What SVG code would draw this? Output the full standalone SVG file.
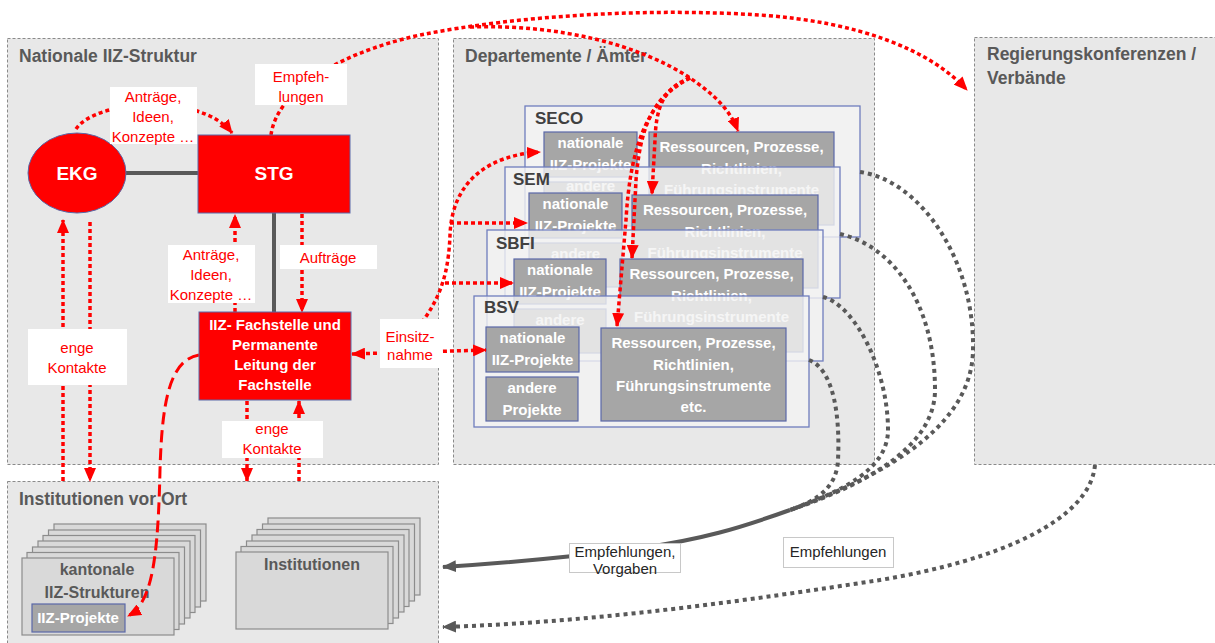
<svg xmlns="http://www.w3.org/2000/svg" width="1215" height="643" viewBox="0 0 1215 643">
<defs>
<style>
.panel{fill:#e8e8e8;stroke:#8a8a8a;stroke-width:1;stroke-dasharray:3 2}
.ptitle{font-family:"Liberation Sans",Arial,sans-serif;font-weight:bold;font-size:17.5px;fill:#595959}
.dept{fill:#f2f2f2;stroke:#6f7dbd;stroke-width:1.3}
.deptT{fill:#f2f2f2;fill-opacity:0.8;stroke:#6f7dbd;stroke-width:1.3}
.inner{fill:#a6a6a6;stroke:#5a68a8;stroke-width:1.2}
.wt{font-family:"Liberation Sans",Arial,sans-serif;font-weight:bold;font-size:15px;fill:#ffffff;text-anchor:middle}
.dtitle{font-family:"Liberation Sans",Arial,sans-serif;font-weight:bold;font-size:17px;fill:#404040}
.lbl{fill:#ffffff}
.blbl{fill:#ffffff;stroke:#c8c8c8;stroke-width:1}
.rt{font-family:"Liberation Sans",Arial,sans-serif;font-size:15px;fill:#ff0000;text-anchor:middle}
.bt{font-family:"Liberation Sans",Arial,sans-serif;font-size:15px;fill:#262626;text-anchor:middle}
.rdot{fill:none;stroke:#ff0000;stroke-width:3.5;stroke-dasharray:4 3}
.rdash{fill:none;stroke:#ff0000;stroke-width:3;stroke-dasharray:12 6}
.gdot{fill:none;stroke:#595959;stroke-width:4;stroke-dasharray:4 4}
.gsol{fill:none;stroke:#595959;stroke-width:4}
.gline{stroke:#595959;stroke-width:4}
.card{fill:#d9d9d9;stroke:#8c8c8c;stroke-width:1.2}
.ct{font-family:"Liberation Sans",Arial,sans-serif;font-weight:bold;font-size:16px;fill:#595959;text-anchor:middle}
.redbox{fill:#ff0000;stroke:#5a68a8;stroke-width:1}
.bigw{font-family:"Liberation Sans",Arial,sans-serif;font-weight:bold;font-size:19px;fill:#ffffff;text-anchor:middle}
</style>
<marker id="ar" markerUnits="userSpaceOnUse" markerWidth="14" markerHeight="12" viewBox="0 0 14 12" refX="13" refY="6" orient="auto-start-reverse">
<path d="M0,0 L14,6 L0,12 z" fill="#ff0000"/>
</marker>
<marker id="ag" markerUnits="userSpaceOnUse" markerWidth="14" markerHeight="12" viewBox="0 0 14 12" refX="13" refY="6" orient="auto">
<path d="M0,0 L14,6 L0,12 z" fill="#595959"/>
</marker>
</defs>
<rect width="1215" height="643" fill="#ffffff"/>

<g id="panel-national">
<rect class="panel" x="7.5" y="38.5" width="431" height="426"/>
<text class="ptitle" x="19" y="62">Nationale IIZ-Struktur</text>
</g>
<g id="panel-departemente">
<rect class="panel" x="453.5" y="38.5" width="421" height="426"/>
<text class="ptitle" x="465" y="62">Departemente / Ämter</text>
</g>
<g id="panel-regierung">
<rect class="panel" x="974.5" y="37.5" width="250" height="427"/>
<text class="ptitle" x="987" y="60">Regierungskonferenzen /</text>
<text class="ptitle" x="987" y="84">Verbände</text>
</g>
<g id="panel-institutionen">
<rect class="panel" x="7.5" y="481.5" width="431" height="170"/>
<text class="ptitle" x="19" y="505">Institutionen vor Ort</text>
</g>

<g id="node-kantonale">
<rect class="card" x="54" y="524" width="152" height="77"/>
<rect class="card" x="48.5" y="530" width="152" height="77"/>
<rect class="card" x="43" y="535.5" width="152" height="77"/>
<rect class="card" x="38" y="541" width="152" height="77"/>
<rect class="card" x="32.5" y="547" width="152" height="77"/>
<rect class="card" x="27" y="552.5" width="152" height="77"/>
<rect class="card" x="22" y="558" width="152" height="77"/>
<text class="ct" x="97" y="575">kantonale</text>
<text class="ct" x="97" y="598">IIZ-Strukturen</text>
<rect class="inner" x="32" y="604" width="93" height="28"/>
<text class="wt" x="78" y="623">IIZ-Projekte</text>
</g>
<g id="node-institutionen">
<rect class="card" x="268" y="518" width="152" height="77"/>
<rect class="card" x="262.5" y="524" width="152" height="77"/>
<rect class="card" x="257" y="529.5" width="152" height="77"/>
<rect class="card" x="252" y="535" width="152" height="77"/>
<rect class="card" x="246.5" y="541" width="152" height="77"/>
<rect class="card" x="241" y="546.5" width="152" height="77"/>
<rect class="card" x="236" y="552" width="152" height="77"/>
<text class="ct" x="312" y="570">Institutionen</text>
</g>

<g id="node-seco">
<rect class="dept" x="525" y="106" width="335" height="131"/>
<text class="dtitle" x="535" y="124">SECO</text>
<rect class="inner" x="544" y="132" width="93" height="45"/>
<text class="wt" x="590.5" y="148">nationale</text>
<text class="wt" x="590.5" y="170">IIZ-Projekte</text>
<rect class="inner" x="544" y="182" width="93" height="44"/>
<text class="wt" x="590.5" y="191">andere</text>
<rect class="inner" x="649" y="132" width="185" height="93"/>
<text class="wt" x="741.5" y="152">Ressourcen, Prozesse,</text>
<text class="wt" x="741.5" y="174">Richtlinien,</text>
<text class="wt" x="741.5" y="195">Führungsinstrumente</text>
</g>
<g id="node-sem">
<rect class="deptT" x="505" y="167" width="335" height="131"/>
<text class="dtitle" x="513" y="185">SEM</text>
<rect class="inner" x="529" y="193" width="93" height="45"/>
<text class="wt" x="575.5" y="209">nationale</text>
<text class="wt" x="575.5" y="231">IIZ-Projekte</text>
<rect class="inner" x="529" y="243" width="93" height="44"/>
<text class="wt" x="575.5" y="259">andere</text>
<rect class="inner" x="632" y="195" width="186" height="93"/>
<text class="wt" x="725" y="215">Ressourcen, Prozesse,</text>
<text class="wt" x="725" y="237">Richtlinien,</text>
<text class="wt" x="725" y="258">Führungsinstrumente</text>
</g>
<g id="node-sbfi">
<rect class="deptT" x="487" y="230" width="336" height="131"/>
<text class="dtitle" x="496" y="249">SBFI</text>
<rect class="inner" x="514" y="259" width="92" height="45"/>
<text class="wt" x="560" y="275">nationale</text>
<text class="wt" x="560" y="297">IIZ-Projekte</text>
<rect class="inner" x="514" y="309" width="92" height="44"/>
<text class="wt" x="560" y="325">andere</text>
<rect class="inner" x="620" y="259" width="183" height="93"/>
<text class="wt" x="711.5" y="279">Ressourcen, Prozesse,</text>
<text class="wt" x="711.5" y="301">Richtlinien,</text>
<text class="wt" x="711.5" y="322">Führungsinstrumente</text>
</g>
<g id="node-bsv">
<rect class="deptT" x="474" y="296" width="335" height="131"/>
<text class="dtitle" x="484" y="313">BSV</text>
<rect class="inner" x="486" y="327" width="93" height="45"/>
<text class="wt" x="532.5" y="343">nationale</text>
<text class="wt" x="532.5" y="365">IIZ-Projekte</text>
<rect class="inner" x="486" y="377" width="92" height="44"/>
<text class="wt" x="532" y="393">andere</text>
<text class="wt" x="532" y="415">Projekte</text>
<rect class="inner" x="601" y="328" width="185" height="93"/>
<text class="wt" x="693.5" y="348">Ressourcen, Prozesse,</text>
<text class="wt" x="693.5" y="370">Richtlinien,</text>
<text class="wt" x="693.5" y="391">Führungsinstrumente</text>
<text class="wt" x="693.5" y="412">etc.</text>
</g>

<g id="connectors">
<line class="gline" x1="126" y1="173" x2="198" y2="173"/>
<line class="gline" x1="274" y1="213" x2="274" y2="312"/>
<path class="rdot" d="M76,129 C95,100 200,92 232,133" marker-end="url(#ar)"/>
<path class="rdot" d="M271,135 C276,95 330,55 420,35 C520,15 650,8 760,15 C860,22 930,50 967,90" marker-end="url(#ar)"/>
<path class="rdot" d="M470,27 C560,24 640,45 690,78 C715,95 730,110 738,131" marker-end="url(#ar)"/>
<path class="rdot" d="M690,78 C662,88 656,110 655,140 L652,194" marker-end="url(#ar)"/>
<path class="rdot" d="M690,78 C652,95 640,130 636,180 L632,258" marker-end="url(#ar)"/>
<path class="rdot" d="M690,78 C646,100 630,150 626,220 L617,326" marker-end="url(#ar)"/>
<path class="rdot" d="M405,345 C430,312 448,292 450,235 C452,180 490,155 540,152" marker-end="url(#ar)"/>
<path class="rdot" d="M450,223 L527,223" marker-end="url(#ar)"/>
<path class="rdot" d="M445,283 L513,283" marker-end="url(#ar)"/>
<path class="rdot" d="M352,354 L486,350" marker-start="url(#ar)" marker-end="url(#ar)"/>
<path class="rdot" d="M63,481 L63,220" marker-end="url(#ar)"/>
<path class="rdot" d="M90,222 L90,481" marker-end="url(#ar)"/>
<path class="rdot" d="M235,312 L235,215" marker-end="url(#ar)"/>
<path class="rdot" d="M302,214 L302,312" marker-end="url(#ar)"/>
<path class="rdot" d="M247,401 L247,481" marker-end="url(#ar)"/>
<path class="rdot" d="M299,481 L299,401" marker-end="url(#ar)"/>
<path class="rdash" d="M199,355 C170,360 162,400 160,470 C158,560 152,603 128,616" marker-end="url(#ar)"/>
<path class="gdot" d="M860,172 C920,180 975,260 973,350 C972,420 900,470 790,510"/>
<path class="gdot" d="M840,234 C890,245 935,300 935,390 C935,440 880,480 790,510"/>
<path class="gdot" d="M823,297 C855,305 888,370 888,430 C888,470 840,492 790,510"/>
<path class="gdot" d="M809,360 C835,370 840,420 838,460 C837,485 820,500 790,510"/>
<path class="gsol" d="M790,510 C740,528 700,540 640,548 C580,556 520,562 443,567" marker-end="url(#ag)"/>
<path class="gdot" d="M1095,465 C1090,520 1000,560 880,580 C750,600 600,622 443,627" marker-end="url(#ag)"/>
</g>

<g id="node-ekg">
<ellipse cx="77" cy="173" rx="49" ry="40" fill="#ff0000" stroke="#5a68a8" stroke-width="1"/>
<text class="bigw" x="77" y="180">EKG</text>
</g>
<g id="node-stg">
<rect class="redbox" x="198" y="135" width="152" height="78"/>
<text class="bigw" x="274" y="180">STG</text>
</g>
<g id="node-fachstelle">
<rect class="redbox" x="199" y="312" width="152" height="88" fill="#f00000"/>
<text class="wt" x="275" y="330">IIZ- Fachstelle und</text>
<text class="wt" x="275" y="350">Permanente</text>
<text class="wt" x="275" y="370">Leitung der</text>
<text class="wt" x="275" y="390">Fachstelle</text>
</g>

<g id="labels">
<rect class="lbl" x="110" y="87" width="87" height="57"/>
<text class="rt" x="153" y="102">Anträge,</text>
<text class="rt" x="153" y="122">Ideen,</text>
<text class="rt" x="153" y="142">Konzepte …</text>
<rect class="lbl" x="255" y="64" width="92" height="41"/>
<text class="rt" x="301" y="82">Empfeh-</text>
<text class="rt" x="301" y="102">lungen</text>
<rect class="lbl" x="168" y="245" width="87" height="58"/>
<text class="rt" x="211" y="260">Anträge,</text>
<text class="rt" x="211" y="280">Ideen,</text>
<text class="rt" x="211" y="300">Konzepte …</text>
<rect class="lbl" x="280" y="245" width="97" height="24"/>
<text class="rt" x="328" y="263">Aufträge</text>
<rect class="lbl" x="28" y="329" width="99" height="56"/>
<text class="rt" x="77" y="353">enge</text>
<text class="rt" x="77" y="373">Kontakte</text>
<rect class="lbl" x="222" y="421" width="101" height="37"/>
<text class="rt" x="272" y="434">enge</text>
<text class="rt" x="272" y="454">Kontakte</text>
<rect class="lbl" x="380" y="319" width="60" height="49"/>
<text class="rt" x="410" y="342">Einsitz-</text>
<text class="rt" x="410" y="360">nahme</text>
<rect class="blbl" x="569.5" y="543.5" width="111" height="29"/>
<text class="bt" x="625" y="557">Empfehlungen,</text>
<text class="bt" x="625" y="574">Vorgaben</text>
<rect class="blbl" x="783.5" y="537.5" width="110" height="30"/>
<text class="bt" x="838" y="557">Empfehlungen</text>
</g>
</svg>
